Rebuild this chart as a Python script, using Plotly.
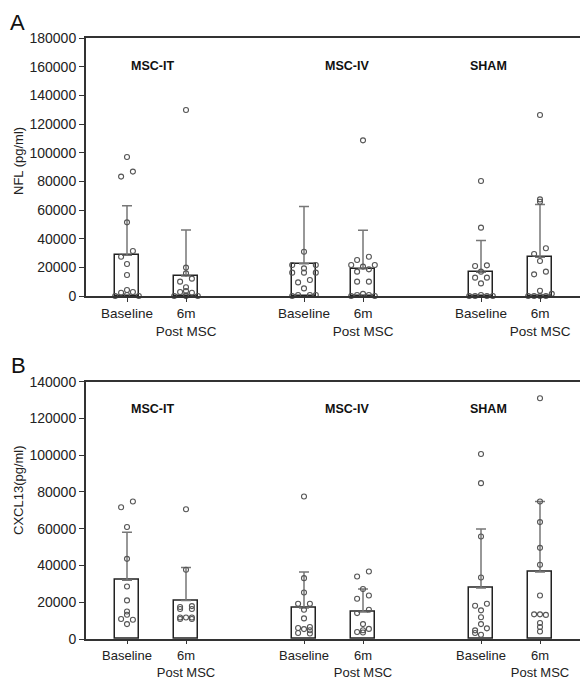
import plotly.graph_objects as go

# ---------------- data ----------------
positions = [0, 1, 3, 4, 6, 7]
tick_labels = ["Baseline", "6m<br>Post MSC", "Baseline", "6m<br>Post MSC", "Baseline", "6m<br>Post MSC"]
groups = ["MSC-IT", "MSC-IV", "SHAM"]

# Panel A: NFL (pg/ml)
nfl_mean = [28500, 14000, 22500, 19000, 16500, 27000]
nfl_err_top = [63000, 46000, 62500, 45800, 38800, 63800]
nfl_points = [
    [97000, 83300, 86800, 51400, 31400, 27400, 22300, 14700, 4200, 2300, 2800, 700, 0, 0],
    [129800, 19800, 15800, 12100, 10000, 6100, 3500, 2800, 2300, 500, 0, 0, 0],
    [30900, 21600, 21600, 19300, 16300, 16300, 16300, 11200, 9500, 5300, 700, 700, 700, 0],
    [108600, 25100, 27400, 21600, 21600, 20500, 18600, 17000, 10000, 10000, 0, 700, 1500, 700, 0],
    [80200, 47700, 20900, 21400, 17000, 12800, 12800, 8800, 0, 0, 700, 0, 0],
    [126300, 67400, 65800, 33300, 29300, 24400, 15100, 17000, 3700, 0, 0, 0, 0, 1500],
]
nfl_jitter = [
    [0, -0.1, 0.1, 0, 0.1, -0.1, 0, 0, 0, -0.1, 0.1, 0, -0.2, 0.2],
    [0, 0, 0, 0.1, -0.1, 0, 0, -0.1, 0.1, 0, -0.2, 0, 0.2],
    [0, -0.2, 0.2, 0, 0, -0.2, 0.2, 0.1, -0.1, 0, -0.1, 0.1, 0.2, -0.2],
    [0, -0.1, 0.1, -0.2, 0.2, 0, 0.1, -0.1, -0.1, 0.1, -0.2, -0.1, 0, 0.1, 0.2],
    [0, 0, -0.1, 0.1, 0, -0.1, 0.1, 0, -0.2, -0.1, 0, 0.1, 0.2],
    [0, 0, 0, 0.1, -0.1, 0, -0.1, 0.1, 0, -0.2, -0.1, 0, 0.1, 0.2],
]

# Panel B: CXCL13 (pg/ml)
cx_mean = [32000, 21000, 16800, 14700, 27700, 36400]
cx_err_top = [58100, 38900, 36400, 27200, 59900, 74800]
cx_points = [
    [71700, 74800, 60900, 43600, 28600, 21000, 15000, 13200, 10900, 10500, 8100],
    [70600, 37700, 17400, 16300, 17900, 16300, 11700, 11700, 11700, 10900, 10900],
    [77500, 33100, 25300, 19200, 19200, 15900, 11200, 6000, 5400, 6500, 4800, 3300, 3000],
    [34000, 36700, 27200, 21900, 23700, 14100, 15900, 8100, 3800, 3500, 5500, 4800],
    [100700, 84800, 55800, 33500, 18100, 19200, 15600, 11800, 8100, 4700, 3300, 2300, 5800],
    [131000, 74800, 63600, 49600, 40400, 23700, 13400, 13400, 13100, 8700, 6500, 4100],
]
cx_jitter = [
    [-0.1, 0.1, 0, 0, 0, 0, 0, 0, -0.1, 0.1, 0],
    [0, 0, -0.1, -0.1, 0.1, 0.1, -0.1, 0, 0.1, -0.1, 0.1],
    [0, 0, 0, -0.1, 0.1, 0, 0, -0.1, 0, 0.1, 0.1, -0.1, 0.1],
    [-0.1, 0.1, 0, -0.1, 0.1, -0.1, 0.1, 0, -0.1, 0, 0.1, 0],
    [0, 0, 0, 0, -0.1, 0.1, 0, 0, 0, -0.1, -0.1, 0, 0.1],
    [0, 0, 0, 0, 0, 0, -0.1, 0, 0.1, 0, 0, 0],
]

# ---------------- layout geometry (window pixels; page body margin removed) ----------------
W, H = 580, 678
ML, MR, MT = 86, 0, 38
MB = H - 639
PW, PH = W - ML - MR, H - MT - MB
unit = 59.0
x0 = -(127 - ML) / unit
xr = [x0, x0 + PW / unit]


def py(px):  # window pixel y -> paper y
    return (H - MB - px) / PH


def pxx(px):  # window pixel x -> paper x
    return (px - ML) / PW


FONT = "Liberation Sans, Arial, sans-serif"
fig = go.Figure()

panels = [
    (nfl_mean, nfl_err_top, nfl_points, nfl_jitter, "x", "y"),
    (cx_mean, cx_err_top, cx_points, cx_jitter, "x2", "y2"),
]
for mean, errtop, pts, jit, xa, ya in panels:
    fig.add_trace(go.Bar(
        x=positions, y=mean, width=0.41, xaxis=xa, yaxis=ya,
        marker=dict(color="white", line=dict(color="#222", width=1.5)),
        error_y=dict(type="data", symmetric=False,
                     array=[e - m for e, m in zip(errtop, mean)],
                     arrayminus=[0] * len(mean),
                     color="#777", thickness=1.5, width=5),
        showlegend=False, hoverinfo="skip",
    ))
    xs, ys = [], []
    for p, vals, js in zip(positions, pts, jit):
        for v, j in zip(vals, js):
            xs.append(p + j)
            ys.append(v)
    fig.add_trace(go.Scatter(
        x=xs, y=ys, mode="markers", xaxis=xa, yaxis=ya,
        marker=dict(symbol="circle-open", size=5, color="#555", line=dict(width=1.1)),
        showlegend=False, hoverinfo="skip", cliponaxis=False,
    ))

dom_a = [py(296), 1.0]
dom_b = [0.0, py(381.7)]

xcommon = dict(range=xr, tickmode="array", tickvals=positions, ticktext=tick_labels,
               showline=True, linecolor="#333", linewidth=2, mirror=True,
               ticks="outside", tickcolor="#333", showgrid=False, zeroline=False)
ycommon = dict(showline=True, linecolor="#333", linewidth=2, ticks="outside", ticklen=5,
               tickcolor="#333", showgrid=False, zeroline=False, tickformat="d", dtick=20000,
               tickfont=dict(family=FONT, size=14, color="#222"))

fig.update_layout(
    width=W, height=H, margin=dict(l=ML, r=MR, t=MT, b=MB, autoexpand=False),
    paper_bgcolor="white", plot_bgcolor="white", bargap=0,
    xaxis=dict(domain=[0, 1], anchor="y", ticklen=4,
               tickfont=dict(family=FONT, size=13.5, color="#222"), **xcommon),
    yaxis=dict(domain=dom_a, anchor="x", range=[0, 180000], **ycommon),
    xaxis2=dict(domain=[0, 1], anchor="y2", ticklen=3,
                tickfont=dict(family=FONT, size=13, color="#222"), **xcommon),
    yaxis2=dict(domain=dom_b, anchor="x2", range=[0, 140000], **ycommon),
)

ann = []


def add_text(text, wx, wy, size, color="#111", angle=0):
    ann.append(dict(text=text, x=pxx(wx), y=py(wy), xref="paper", yref="paper",
                    xanchor="center", yanchor="middle", showarrow=False, textangle=angle,
                    font=dict(family=FONT, size=size, color=color)))


# group labels
for name, cx in zip(groups, [152, 347, 488.5]):
    add_text("<b>%s</b>" % name, cx, 66.5, 12.5)
    add_text("<b>%s</b>" % name, cx, 409, 12.5)
# panel letters
add_text("A", 17, 22, 22)
add_text("B", 18, 365, 22)
# y titles
add_text("NFL (pg/ml)", 18, 161, 13, "#222", -90)
add_text("CXCL13(pg/ml)", 18, 490, 13, "#222", -90)
fig.update_layout(annotations=ann)

fig.write_html(
    "out.html",
    config={"displayModeBar": False},
    post_script="document.body.style.margin='0';document.body.style.overflow='hidden';",
)
